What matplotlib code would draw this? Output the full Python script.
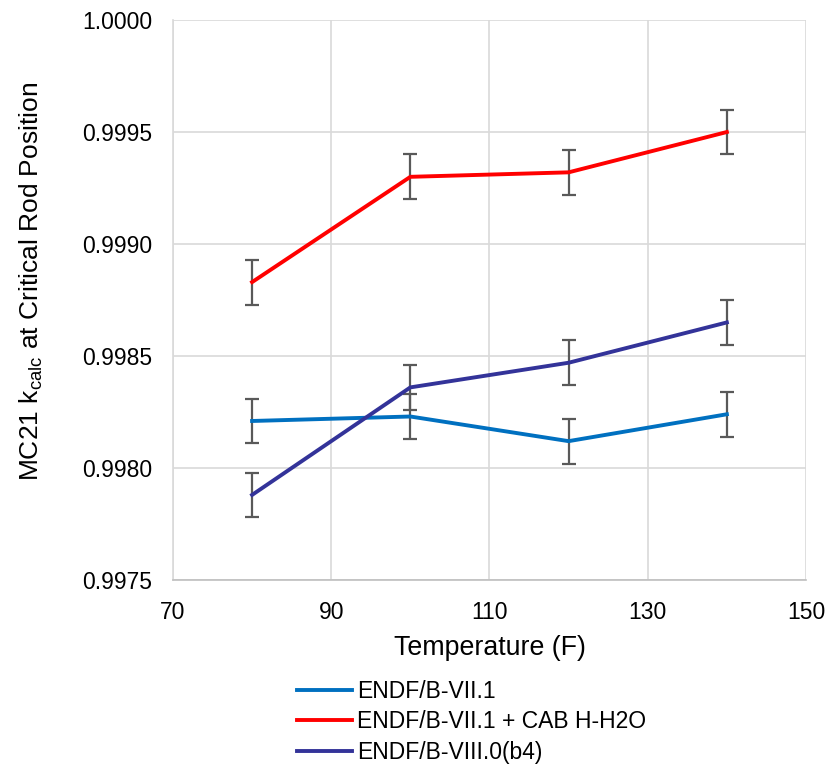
import numpy as np
import matplotlib.pyplot as plt

plt.rcParams['font.family'] = ['Liberation Sans', 'DejaVu Sans']

# data
temps = [80, 100, 120, 140]
k_b71 = [0.99821, 0.99823, 0.99812, 0.99824]
k_b71_cab = [0.99883, 0.99930, 0.99932, 0.99950]
k_b80 = [0.99788, 0.99836, 0.99847, 0.99865]
k_err = [0.0001, 0.0001, 0.0001, 0.0001]

labels = ['ENDF/B-VII.1', 'ENDF/B-VII.1 + CAB H-H2O', 'ENDF/B-VIII.0(b4)']
colors = ['#0070C0', '#FF0000', '#333399']

fig = plt.figure(figsize=(8.34, 7.64), dpi=100)
ax = fig.add_axes([0.2074, 0.2408, 0.759, 0.733])

for ys, lab, c in zip([k_b71, k_b71_cab, k_b80], labels, colors):
    ax.plot(temps, ys, color=c, lw=2.8, label=lab, zorder=3)
    ax.errorbar(temps, ys, yerr=k_err, fmt='none', ecolor='#595959',
                elinewidth=1.6, capsize=5, capthick=1.6, zorder=2)

ax.set_xlim(70, 150)
ax.set_ylim(0.9975, 1.0)
ax.set_xticks(np.arange(70, 151, 20))
ax.set_yticks(np.arange(0.9975, 1.00001, 0.0005))
ax.yaxis.set_major_formatter(plt.FormatStrFormatter('%.4f'))
ax.grid(True, color='#D9D9D9', lw=1.2)
ax.set_axisbelow(True)
for s in ['top', 'right']:
    ax.spines[s].set_visible(False)
ax.spines['left'].set_color('#D9D9D9')
ax.spines['bottom'].set_color('#BFBFBF')
ax.spines['left'].set_linewidth(1.2)
ax.spines['bottom'].set_linewidth(1.2)
ax.tick_params(length=0, labelsize=16.5, colors='#000000')
ax.tick_params(axis='x', pad=15)
ax.tick_params(axis='y', pad=15)

ax.set_xlabel('Temperature (F)', fontsize=19.3, labelpad=8)
ax.set_ylabel('MC21 k$_{\\mathregular{calc}}$ at Critical Rod Position', fontsize=19)
ax.yaxis.set_label_coords(-0.202, 0.534)

ax.legend(loc='upper center', bbox_to_anchor=(0.472, -0.141), frameon=False,
          fontsize=16.5, handlelength=2.4, handletextpad=0.2, labelspacing=0.33)

fig.savefig('out.png', dpi=100)
